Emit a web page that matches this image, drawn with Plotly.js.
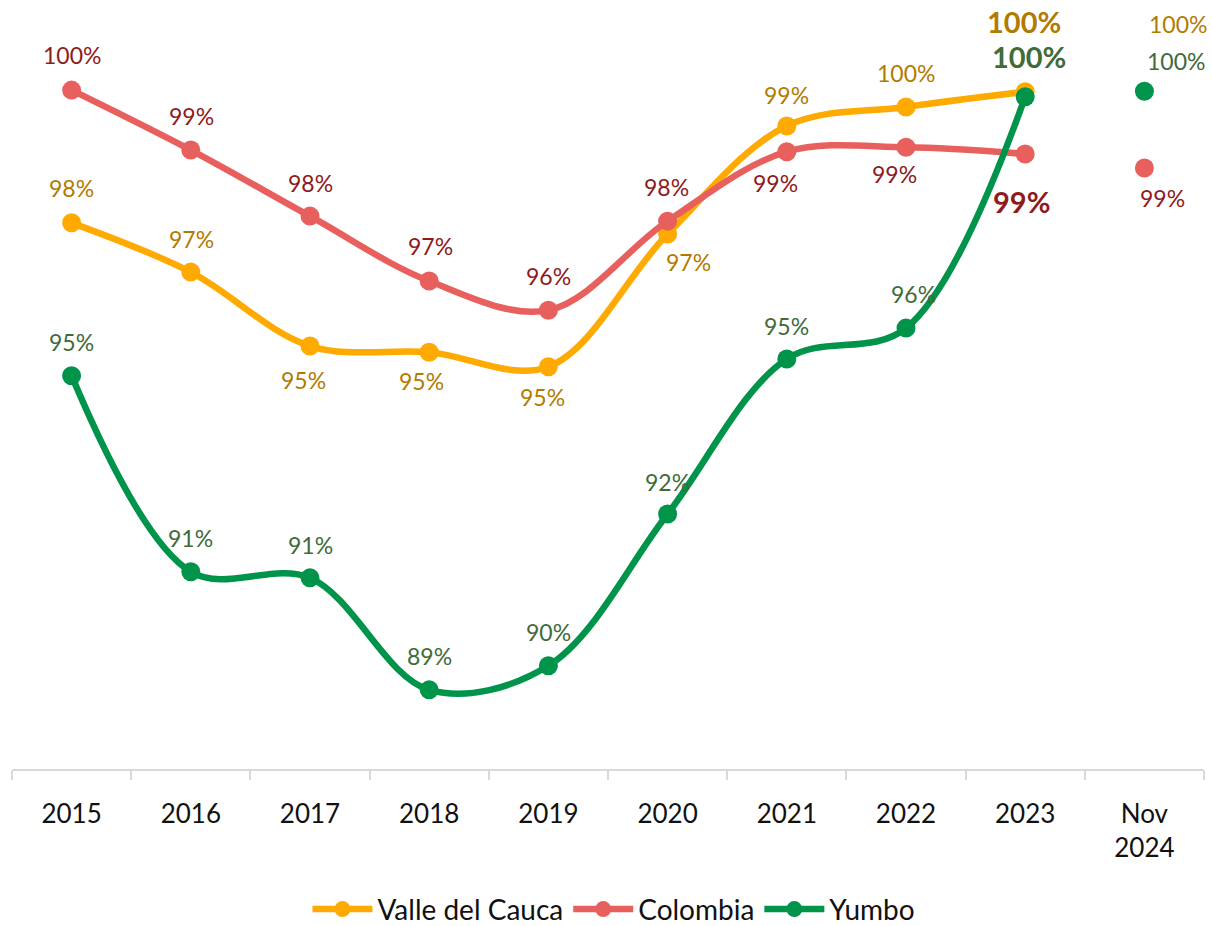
<!DOCTYPE html>
<html>
<head>
<meta charset="utf-8">
<script src="https://cdn.plot.ly/plotly-3.0.1.min.js"></script>
<style>
html,body{margin:0;padding:0;background:#fff;}
#chart{width:1212px;height:926px;}
</style>
</head>
<body>
<div id="chart"></div>
<script>
// ---- data ----
const categories = ["2015","2016","2017","2018","2019","2020","2021","2022","2023","Nov 2024"];
const tickLabels = ["2015","2016","2017","2018","2019","2020","2021","2022","2023","Nov<br>2024"];
const valleValues    = [97.61, 96.73, 95.41, 95.30, 95.04, 97.41, 99.34, 99.68, 99.95, 99.96];
const colombiaValues = [99.98, 98.91, 97.73, 96.57, 96.05, 97.64, 98.88, 98.96, 98.84, 98.59];
const yumboValues    = [94.88, 91.38, 91.27, 89.27, 89.70, 92.41, 95.18, 95.73, 99.86, 99.96];
const seriesNames = ["Valle del Cauca", "Colombia", "Yumbo"];

// ---- styles ----
const lineColors  = ["#FFAA00", "#E8605E", "#00934A"];
const labelColors = ["#B27B00", "#8E1A1C", "#416B38"];
// label offsets [xshift, yshift] in px (positive y = up)
const offsets = [
  [[0,35],[1,33],[-7,-34],[-8,-29],[-6,-30],[21,-28],[0,31],[0,34],[-1,70],[34,67]],
  [[0,35],[1,34],[0,33],[1,35],[0,34],[-1,34],[-11,-31],[-12,-27],[-4,-48],[18,-30]],
  [[0,34],[0,34],[0,33],[0,34],[0,34],[0,32],[0,33],[7,34],[4,40],[32,30]]
];
const boldIdx = 8;

const allValues = [valleValues, colombiaValues, yumboValues];
const traces = [];
const annotations = [];
const nMain = categories.length - 1;

allValues.forEach((vals, s) => {
  traces.push({
    type: "scatter", mode: "lines+markers", name: seriesNames[s],
    x: categories.slice(0, nMain), y: vals.slice(0, nMain),
    line: {color: lineColors[s], width: 6.5, shape: "spline", smoothing: 1},
    marker: {color: lineColors[s], size: 19},
    cliponaxis: false, hoverinfo: "x+y"
  });
});
allValues.forEach((vals, s) => {
  traces.push({
    type: "scatter", mode: "markers", name: seriesNames[s], showlegend: false,
    x: categories.slice(nMain), y: vals.slice(nMain),
    marker: {color: lineColors[s], size: s === 0 ? 17 : 19},
    cliponaxis: false, hoverinfo: "x+y"
  });
});
allValues.forEach((vals, s) => {
  vals.forEach((v, i) => {
    const bold = i === boldIdx;
    annotations.push({
      x: i, y: v, xref: "x", yref: "y",
      text: bold ? "<b>" + Math.round(v) + "%</b>" : Math.round(v) + "%",
      showarrow: false, xanchor: "center", yanchor: "middle",
      xshift: offsets[s][i][0], yshift: offsets[s][i][1],
      font: {family: "Lato, 'Open Sans', sans-serif", size: bold ? 29 : 23, color: labelColors[s]}
    });
  });
});

const layout = {
  width: 1212, height: 926,
  paper_bgcolor: "#ffffff", plot_bgcolor: "#ffffff",
  margin: {l: 12, r: 8, t: 20, b: 157, autoexpand: false},
  showlegend: true,
  legend: {
    orientation: "h", x: 0.505, xanchor: "center",
    yref: "container", y: 0.018, yanchor: "middle",
    font: {family: "Lato, sans-serif", size: 28, color: "#111"},
    itemwidth: 60, traceorder: "normal"
  },
  xaxis: {
    type: "category", categoryorder: "array", categoryarray: categories,
    tickmode: "array", tickvals: categories, ticktext: tickLabels,
    tickson: "boundaries", ticks: "outside", ticklen: 9, tickwidth: 2, tickcolor: "#d9d9d9",
    ticklabelstandoff: 21,
    showline: true, linecolor: "#d9d9d9", linewidth: 2,
    showgrid: false, zeroline: false, automargin: false,
    tickfont: {family: "Lato, sans-serif", size: 26, color: "#111"},
    range: [-0.5, 9.5], fixedrange: true
  },
  yaxis: {
    visible: false, range: [87.857, 101.232], fixedrange: true,
    showgrid: false, zeroline: false
  },
  annotations: annotations
};

Plotly.newPlot("chart", traces, layout, {displayModeBar: false, staticPlot: true});
</script>
</body>
</html>
